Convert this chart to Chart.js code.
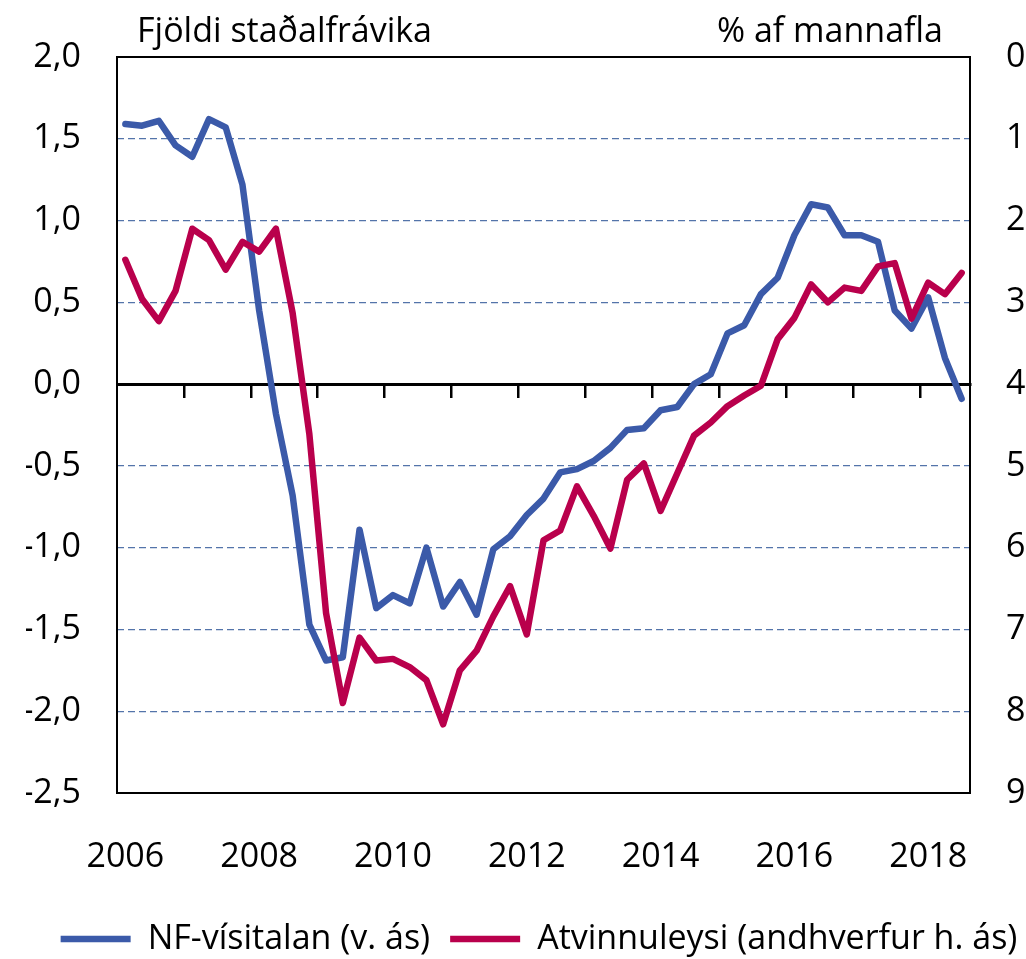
<!DOCTYPE html>
<html><head><meta charset="utf-8">
<script src="https://cdn.jsdelivr.net/npm/chart.js@4"></script>
<style>
html,body{margin:0;padding:0;background:#fff;overflow:hidden;}
#wrap{position:relative;width:1026px;height:959px;}
.cap{position:absolute;font-family:'Open Sans',sans-serif;font-size:34px;line-height:34px;color:#000;white-space:nowrap;}
</style></head><body>
<div id="wrap"><canvas id="c" width="1026" height="959"></canvas>
<div class="cap" style="left:137px;top:12px">Fjöldi staðalfrávika</div>
<div class="cap" style="right:83px;top:12px">% af mannafla</div>
</div>
<script>
// Quarterly categories 2006 Q1 – 2018 Q3
const years = ['2006','2007','2008','2009','2010','2011','2012','2013','2014','2015','2016','2017','2018'];
const quarterNames = ['Q1','Q2','Q3','Q4'];
const categories = years.flatMap(y => quarterNames.map(q => y + ' ' + q)).slice(0, 51);

// NF-vísitalan (left axis, number of standard deviations)
const nfIndex = [1.59,1.58,1.61,1.46,1.39,1.62,1.57,1.22,0.45,-0.18,
  -0.68,-1.47,-1.69,-1.67,-0.89,-1.37,-1.29,-1.34,-1.00,-1.36,
  -1.21,-1.41,-1.01,-0.93,-0.80,-0.70,-0.54,-0.52,-0.47,-0.39,
  -0.28,-0.27,-0.16,-0.14,0.00,0.06,0.31,0.36,0.55,0.65,
  0.91,1.10,1.08,0.91,0.91,0.87,0.45,0.34,0.53,0.16,-0.09];

// Atvinnuleysi (right axis, % of labour force, inverted)
const unemployment = [2.48,2.96,3.23,2.86,2.10,2.24,2.60,2.26,2.38,2.10,
  3.13,4.61,6.80,7.90,7.10,7.38,7.36,7.46,7.62,8.16,
  7.50,7.26,6.84,6.47,7.06,5.91,5.79,5.25,5.61,6.01,
  5.17,4.97,5.55,5.09,4.63,4.47,4.27,4.14,4.02,3.45,
  3.19,2.78,3.00,2.82,2.86,2.56,2.52,3.20,2.76,2.90,2.64];

const seriesNames = ['NF-vísitalan (v. ás)', 'Atvinnuleysi (andhverfur h. ás)'];

const BLUE = 'rgb(59,90,169)';
const RED = 'rgb(185,0,76)';
const GRID = 'rgb(84,116,170)';
const FONT = 'Open Sans';

const frame = {
  id: 'frame',
  afterDatasetsDraw(chart) {
    const {ctx, chartArea: a} = chart;
    ctx.save();
    ctx.strokeStyle = '#000';
    ctx.lineWidth = 2;
    ctx.strokeRect(a.left, a.top, a.right - a.left, a.bottom - a.top);
    ctx.restore();
  }
};

new Chart(document.getElementById('c'), {
  type: 'line',
  data: {
    labels: categories,
    datasets: [
      {label: seriesNames[0], data: nfIndex, yAxisID: 'y', xAxisID: 'x',
       borderColor: BLUE, backgroundColor: BLUE, borderWidth: 6.5,
       pointRadius: 0, tension: 0, borderJoinStyle: 'round', borderCapStyle: 'round', order: 1},
      {label: seriesNames[1], data: unemployment, yAxisID: 'y1', xAxisID: 'x',
       borderColor: RED, backgroundColor: RED, borderWidth: 6.5,
       pointRadius: 0, tension: 0, borderJoinStyle: 'round', borderCapStyle: 'round', order: 0}
    ]
  },
  options: {
    responsive: false,
    animation: false,
    layout: {padding: {top: 57, left: 26, right: -26, bottom: -7}},
    plugins: {
      legend: {
        position: 'bottom',
        labels: {
          usePointStyle: true, pointStyle: 'line', pointStyleWidth: 70,
          font: {family: FONT, size: 34}, color: '#000', padding: 20,
          sort: (a, b) => a.datasetIndex - b.datasetIndex
        }
      },
      tooltip: {enabled: false}
    },
    scales: {
      x: {
        type: 'category', position: 'bottom', offset: true,
        grid: {display: false, drawTicks: false},
        border: {display: false},
        ticks: {
          autoSkip: false, maxRotation: 0, minRotation: 0, padding: 44,
          font: {family: FONT, size: 34}, color: '#000',
          callback: (v, i) => (i % 8 === 0 ? categories[i].slice(0, 4) : '')
        },
        afterFit: s => { s.height = 109; }
      },
      xZero: {
        type: 'category', position: {y: 0}, offset: true,
        grid: {
          offset: true, drawOnChartArea: false, drawTicks: true, tickLength: 12, lineWidth: 2.5,
          color: c => (c.index > 0 && c.index % 4 === 0 && c.index < categories.length) ? '#000' : 'rgba(0,0,0,0)'
        },
        border: {display: true, color: '#000', width: 3},
        ticks: {display: false, autoSkip: false}
      },
      y: {
        position: 'left', min: -2.5, max: 2.0,
        ticks: {
          stepSize: 0.5, padding: 36, font: {family: FONT, size: 34}, color: '#000',
          callback: v => v.toFixed(1).replace('.', ',')
        },
        grid: {
          drawTicks: false, lineWidth: 1.3,
          color: c => {
            const v = c.tick ? c.tick.value : 0;
            return (Math.abs(v) < 1e-9 || Math.abs(v - 2) < 1e-9 || Math.abs(v + 2.5) < 1e-9) ? 'rgba(0,0,0,0)' : GRID;
          }
        },
        border: {display: false, dash: [7, 4]},
        afterFit: s => { s.width = 91; }
      },
      y1: {
        position: 'right', reverse: true, min: 0, max: 9,
        ticks: {
          stepSize: 1, padding: 36, font: {family: FONT, size: 34}, color: '#000',
          callback: v => String(v)
        },
        grid: {drawOnChartArea: false, drawTicks: false},
        border: {display: false},
        afterFit: s => { s.width = 82; }
      }
    }
  },
  plugins: [frame]
});
</script>
</body></html>
